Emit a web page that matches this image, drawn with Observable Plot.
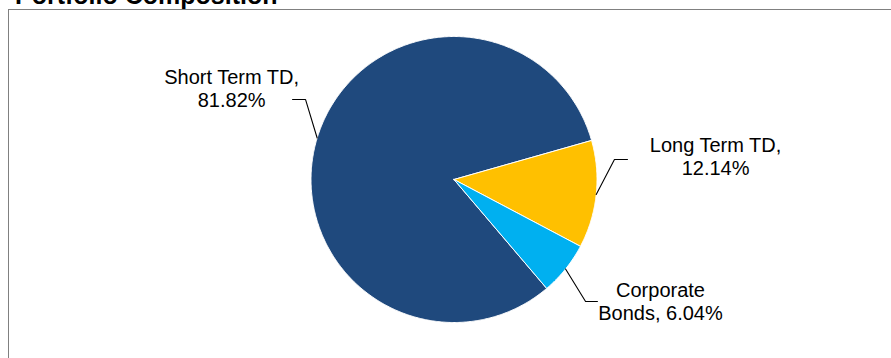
<!DOCTYPE html>
<html><head><meta charset="utf-8">
<script src="https://cdn.jsdelivr.net/npm/d3@7"></script>
<script src="https://cdn.jsdelivr.net/npm/@observablehq/plot@0.6"></script>
<style>
html,body{margin:0;padding:0;background:#fff;overflow:hidden;width:891px;height:358px;}
#title{position:absolute;left:15px;top:-17px;font:bold 25px/25px "Liberation Sans",Arial,sans-serif;color:#000;white-space:nowrap;margin:0}
#frame{position:absolute;left:8px;top:9px;border-left:1px solid #808080;border-top:1px solid #808080;width:882px;height:348px}
#frame svg{display:block}
</style></head><body>
<div id="title">Portfolio Composition</div>
<div id="frame"></div>
<script>
// ---- data ----
const categories = ["Short Term TD", "Long Term TD", "Corporate Bonds"];
const values = [81.82, 12.14, 6.04];
const labelNames = ["Short Term TD,\n", "Long Term TD,\n", "Corporate\nBonds, "];
const colors = ["#1F497D", "#FFC000", "#00B0F0"];

// ---- layout (in pie-radius units, centre = 0,0) ----
const startDeg = 139.6;
const labelLayout = {
  "Short Term TD":   {elbow: [-1.038, 0.559], end: [-1.129, 0.559], text: [-1.555, 0.783]},
  "Long Term TD":    {elbow: [1.122, 0.140],  end: [1.213, 0.140],  text: [1.829, 0.308]},
  "Corporate Bonds": {elbow: [0.920, -0.853], end: [1.003, -0.853], text: [1.444, -0.706]}
};

const rows = categories.map((name, i) => ({name, value: values[i], label: labelNames[i] + values[i].toFixed(2) + "%"}));
const a0 = startDeg * Math.PI / 180;
const arcs = d3.pie().sort(null).value(d => d.value).startAngle(a0).endAngle(a0 + 2 * Math.PI)(rows);

const slicePts = [];
const leaderPts = [];
const labelRows = [];
for (const a of arcs) {
  const name = a.data.name;
  slicePts.push({name, u: 0, v: 0});
  const n = Math.max(2, Math.ceil((a.endAngle - a.startAngle) / (Math.PI / 360)));
  for (let i = 0; i <= n; i++) {
    const t = a.startAngle + (a.endAngle - a.startAngle) * i / n;
    slicePts.push({name, u: Math.sin(t), v: Math.cos(t)});
  }
  slicePts.push({name, u: 0, v: 0});
  const mid = (a.startAngle + a.endAngle) / 2;
  const L = labelLayout[name];
  leaderPts.push({name, u: Math.sin(mid), v: Math.cos(mid)});
  leaderPts.push({name, u: L.elbow[0], v: L.elbow[1]});
  leaderPts.push({name, u: L.end[0], v: L.end[1]});
  labelRows.push({name, u: L.text[0], v: L.text[1], label: a.data.label});
}

const chart = Plot.plot({
  width: 882,
  height: 348,
  margin: 0,
  x: {domain: [-3.1084, 3.0594], axis: null},
  y: {domain: [-1.2517, 1.1818], axis: null},
  color: {domain: categories, range: colors},
  style: {fontFamily: "'Liberation Sans', Arial, sans-serif", background: "transparent"},
  marks: [
    Plot.line(slicePts, {x: "u", y: "v", z: "name", fill: "name", stroke: "white", strokeWidth: 1, curve: "linear"}),
    Plot.line(leaderPts, {x: "u", y: "v", z: "name", stroke: "#000", strokeWidth: 1.1, curve: "linear"}),
    Plot.text(labelRows, {x: "u", y: "v", text: "label", fontSize: 20, lineHeight: 1.15, lineAnchor: "top", textAnchor: "middle", fill: "#000"})
  ]
});
document.getElementById("frame").appendChild(chart);
</script>
</body></html>
